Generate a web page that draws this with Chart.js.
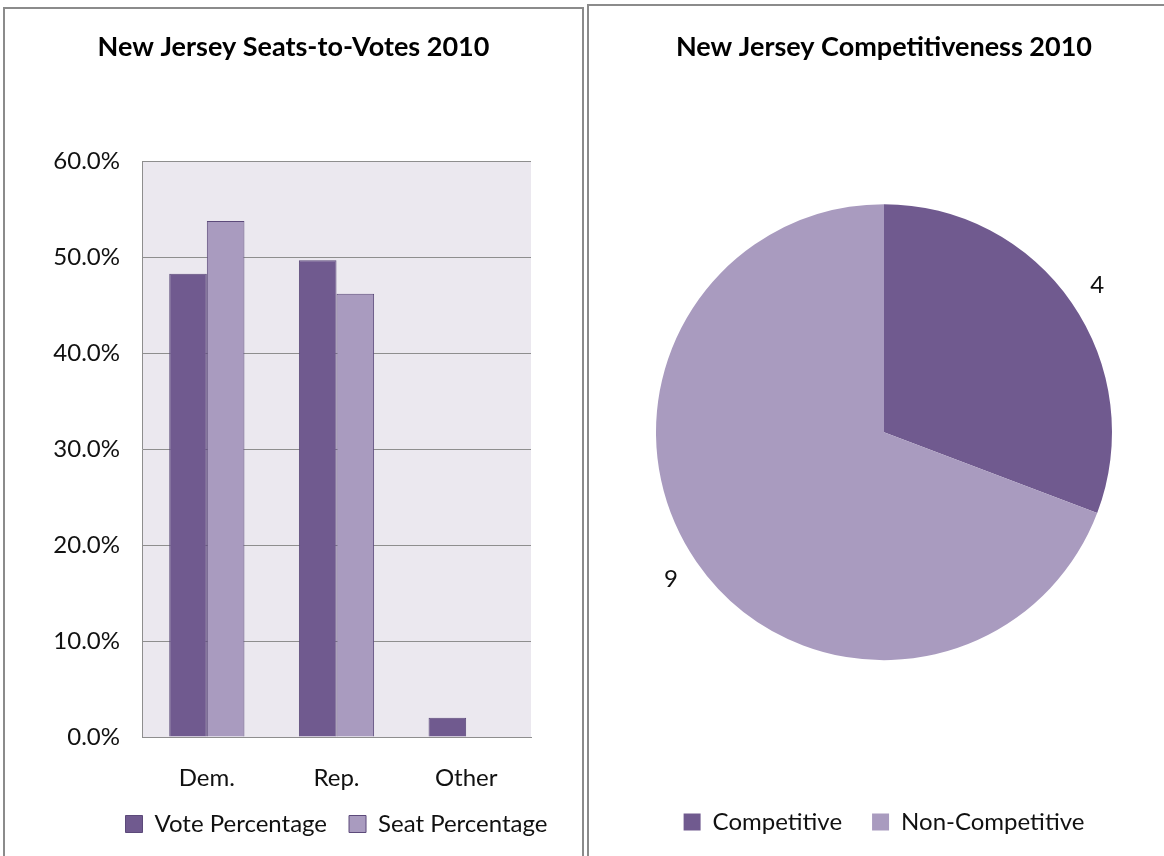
<!DOCTYPE html>
<html>
<head>
<meta charset="utf-8">
<script src="https://cdn.jsdelivr.net/npm/chart.js@4.4.1/dist/chart.umd.min.js"></script>
<style>
  body { margin: 0; background: #fff; width: 1164px; height: 856px; overflow: hidden; position: relative; }
  .panel { position: absolute; border: 2px solid #8b8b8b; background: #fff; }
  #leftPanel { left: 3px; top: 7px; width: 577px; height: 860px; }
  #rightPanel { left: 587px; top: 4px; width: 600px; height: 860px; }
  canvas { display: block; }
</style>
</head>
<body>
<div class="panel" id="leftPanel"><canvas id="barChart"></canvas></div>
<div class="panel" id="rightPanel"><canvas id="pieChart"></canvas></div>
<script>
'use strict';

// Data
const parties = ['Dem.', 'Rep.', 'Other'];
const votePercentage = [48.3, 49.7, 2.0];
const seatPercentage = [53.8, 46.2, null];
const yTicks = [0, 10, 20, 30, 40, 50, 60];

const pieLabels = ['Competitive', 'Non-Competitive'];
const pieValues = [4, 9];

// Colors
const darkPurple = '#705a8f';
const lightPurple = '#a99bbf';
const darkEdge = '#5c4a7a';
const plotBg = '#ebe8ef';
const gridGray = '#8e8e8e';

Chart.defaults.font.family = 'Lato, "Open Sans", sans-serif';
Chart.defaults.color = '#111';
Chart.defaults.animation = false;

// fill the plot area
const plotBackground = {
  id: 'plotBackground',
  beforeDraw(chart){
    const area = chart.chartArea;
    const c = chart.ctx;
    c.save();
    c.fillStyle = plotBg;
    c.fillRect(area.left, area.top, area.right - area.left, area.bottom - area.top);
    c.restore();
  }
};

// title centered on the canvas, legend centered under the plot area
const centerBoxes = {
  id: 'centerBoxes',
  afterLayout(chart){
    const lg = chart.legend;
    const area = chart.chartArea;
    let shift = (area.left + area.right) / 2 - (lg.left + lg.right) / 2;
    lg.left += shift;
    lg.right += shift;

    const tb = chart.titleBlock;
    shift = chart.width / 2 - (tb.left + tb.right) / 2;
    tb.left += shift;
    tb.right += shift;
  }
};

// value labels outside the pie
const pieValueLabels = {
  id: 'pieValueLabels',
  afterDatasetsDraw(chart){
    const c = chart.ctx;
    const meta = chart.getDatasetMeta(0);
    c.save();
    c.font = '24px Lato, sans-serif';
    c.fillStyle = '#111';
    c.textAlign = 'center';
    c.textBaseline = 'middle';
    meta.data.forEach(function(arc, i){
      const mid = (arc.startAngle + arc.endAngle) / 2;
      const r = arc.outerRadius + 31;
      c.fillText(String(pieValues[i]), arc.x + Math.cos(mid) * r, arc.y + Math.sin(mid) * r);
    });
    c.restore();
  }
};

const barCanvas = document.getElementById('barChart');
barCanvas.width = 577;
barCanvas.height = 847;
barCanvas.style.width = '577px';
barCanvas.style.height = '847px';

new Chart(barCanvas, {
  type: 'bar',
  data: {
    labels: parties,
    datasets: [{
      label: 'Vote Percentage',
      data: votePercentage,
      backgroundColor: darkPurple,
      borderColor: darkEdge,
      borderWidth: 1,
      borderSkipped: 'bottom'
    },
    {
      label: 'Seat Percentage',
      data: seatPercentage,
      backgroundColor: lightPurple,
      borderColor: darkEdge,
      borderWidth: 1,
      borderSkipped: 'bottom'
    }]
  },
  options: {
    responsive: false,
    layout: { padding: { left: 0, right: 51, top: 0, bottom: 10 } },
    categoryPercentage: 0.58,
    barPercentage: 1,
    plugins: {
      title: {
        display: true,
        text: 'New Jersey Seats-to-Votes 2010',
        font: { size: 27, weight: 'bold' },
        color: '#000',
        padding: { top: 22, bottom: 98 }
      },
      legend: {
        position: 'bottom',
        labels: { boxWidth: 17, boxHeight: 17, padding: 22, font: { size: 24 }, color: '#111' }
      },
      tooltip: { enabled: false }
    },
    scales: {
      x: {
        grid: { display: false },
        border: { display: true, color: gridGray },
        ticks: { font: { size: 24 }, padding: 19, color: '#111' },
        afterFit(scale){ scale.height = 53; }
      },
      y: {
        min: 0,
        max: 60,
        afterBuildTicks(scale){ scale.ticks = yTicks.map(v => ({ value: v })); },
        grid: { color: gridGray, drawTicks: false },
        border: { display: true, color: gridGray },
        ticks: {
          font: { size: 24 },
          padding: 22,
          color: '#111',
          callback: v => v.toFixed(1) + '%'
        },
        afterFit(scale){ scale.width = 137; }
      }
    }
  },
  plugins: [plotBackground, centerBoxes]
});

const pieCanvas = document.getElementById('pieChart');
pieCanvas.width = 595;
pieCanvas.height = 850;
pieCanvas.style.width = '595px';
pieCanvas.style.height = '850px';

new Chart(pieCanvas, {
  type: 'pie',
  data: {
    labels: pieLabels,
    datasets: [{
      data: pieValues,
      backgroundColor: [darkPurple, lightPurple],
      borderWidth: 0
    }]
  },
  options: {
    responsive: false,
    radius: 228,
    layout: { padding: { left: 0, right: 5, top: 0, bottom: 12 } },
    plugins: {
      title: {
        display: true,
        text: 'New Jersey Competitiveness 2010',
        font: { size: 27, weight: 'bold' },
        color: '#000',
        padding: { top: 25, bottom: 21 }
      },
      legend: {
        position: 'bottom',
        labels: { boxWidth: 17, boxHeight: 17, padding: 30, font: { size: 24 }, color: '#111' }
      },
      tooltip: { enabled: false }
    }
  },
  plugins: [pieValueLabels]
});
</script>
</body>
</html>
